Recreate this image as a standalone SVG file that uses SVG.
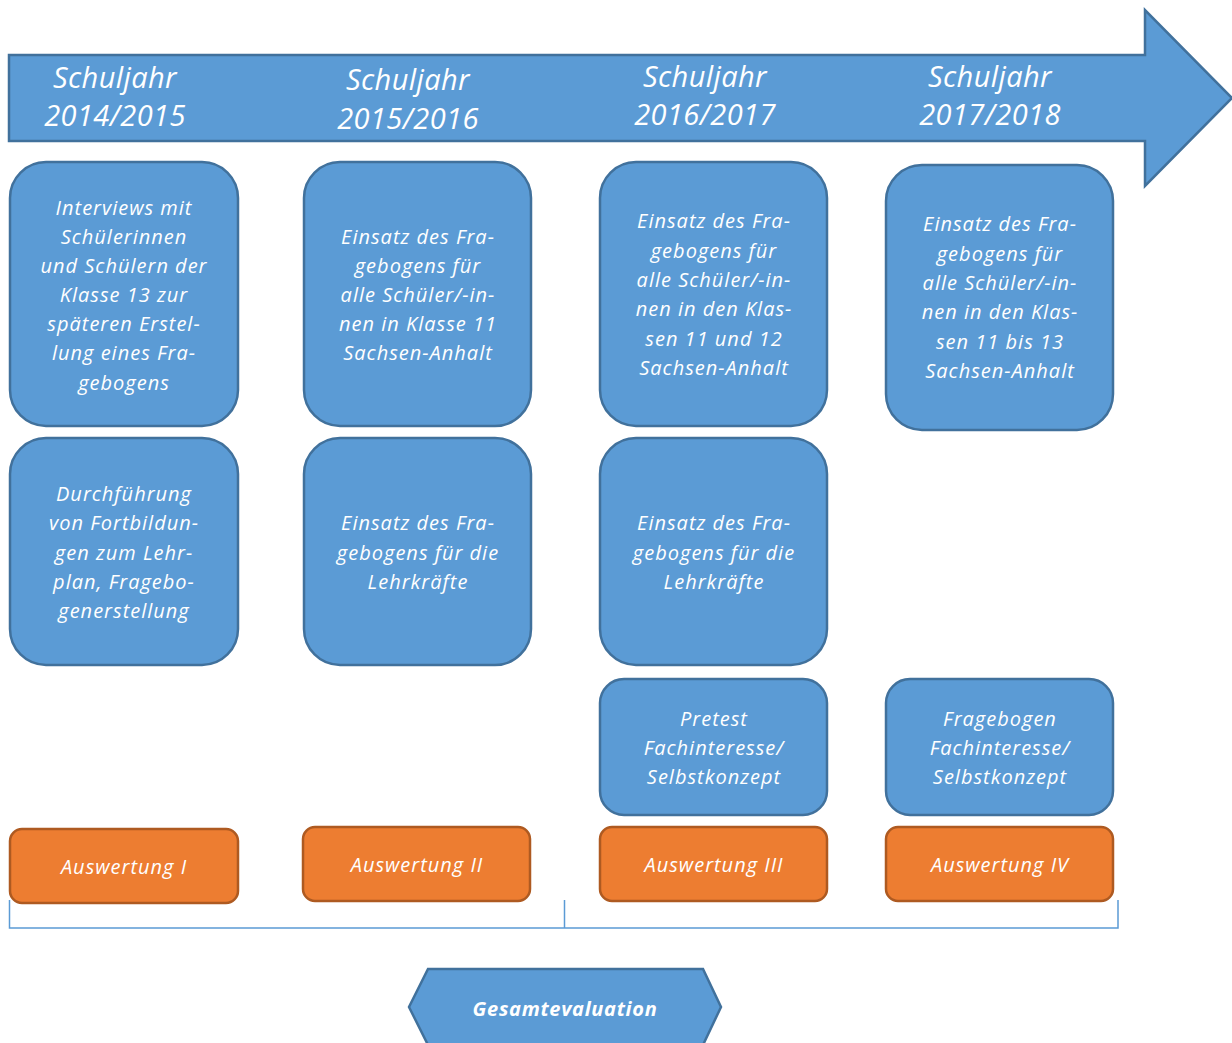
<svg xmlns="http://www.w3.org/2000/svg" width="1232" height="1043" viewBox="0 0 1232 1043">
<style>
.b{fill:#5B9BD5;stroke:#41719C;stroke-width:2.5}
.o{fill:#ED7D31;stroke:#AE5A21;stroke-width:2.5}
text{font-family:"Open Sans","Liberation Sans",sans-serif;font-style:italic;fill:#fff;text-anchor:middle}
.t{font-size:20px;letter-spacing:1px}
.y{font-size:29px;letter-spacing:0.4px}
.g{font-size:20px;font-weight:bold;letter-spacing:0.7px}
.br{fill:none;stroke:#5B9BD5;stroke-width:1.5}
</style>
<rect width="1232" height="1043" fill="#fff"/>
<g id="timeline">
<path class="b" d="M9,55 H1145 V10 L1232,98 L1145,186 V141 H9 Z"/>
<text class="y" x="115" y="88">Schuljahr</text><text class="y" x="115" y="126">2014/2015</text>
<text class="y" x="408" y="90">Schuljahr</text><text class="y" x="408" y="129">2015/2016</text>
<text class="y" x="705" y="87">Schuljahr</text><text class="y" x="705" y="125">2016/2017</text>
<text class="y" x="990" y="87">Schuljahr</text><text class="y" x="990" y="125">2017/2018</text>
</g>
<g id="n1a"><rect class="b" x="10" y="162" width="228" height="264" rx="36"/>
<text class="t"><tspan x="124" y="215">Interviews mit</tspan><tspan x="124" y="244">Schülerinnen</tspan><tspan x="124" y="273">und Schülern der</tspan><tspan x="124" y="302">Klasse 13 zur</tspan><tspan x="124" y="331">späteren Erstel-</tspan><tspan x="124" y="360">lung eines Fra-</tspan><tspan x="124" y="390">gebogens</tspan></text></g>
<g id="n1b"><rect class="b" x="10" y="438" width="228" height="227" rx="36"/>
<text class="t"><tspan x="124" y="501">Durchführung</tspan><tspan x="124" y="530">von Fortbildun-</tspan><tspan x="124" y="560">gen zum Lehr-</tspan><tspan x="124" y="589">plan, Fragebo-</tspan><tspan x="124" y="618">generstellung</tspan></text></g>
<g id="n2a"><rect class="b" x="304" y="162" width="227" height="264" rx="36"/>
<text class="t"><tspan x="418" y="244">Einsatz des Fra-</tspan><tspan x="418" y="273">gebogens für</tspan><tspan x="418" y="302">alle Schüler/-in-</tspan><tspan x="418" y="331">nen in Klasse 11</tspan><tspan x="418" y="360">Sachsen-Anhalt</tspan></text></g>
<g id="n2b"><rect class="b" x="304" y="438" width="227" height="227" rx="36"/>
<text class="t"><tspan x="418" y="530">Einsatz des Fra-</tspan><tspan x="418" y="560">gebogens für die</tspan><tspan x="418" y="589">Lehrkräfte</tspan></text></g>
<g id="n3a"><rect class="b" x="600" y="162" width="227" height="264" rx="36"/>
<text class="t"><tspan x="714" y="228">Einsatz des Fra-</tspan><tspan x="714" y="258">gebogens für</tspan><tspan x="714" y="287">alle Schüler/-in-</tspan><tspan x="714" y="316">nen in den Klas-</tspan><tspan x="714" y="346">sen 11 und 12</tspan><tspan x="714" y="375">Sachsen-Anhalt</tspan></text></g>
<g id="n3b"><rect class="b" x="600" y="438" width="227" height="227" rx="36"/>
<text class="t"><tspan x="714" y="530">Einsatz des Fra-</tspan><tspan x="714" y="560">gebogens für die</tspan><tspan x="714" y="589">Lehrkräfte</tspan></text></g>
<g id="n3c"><rect class="b" x="600" y="679" width="227" height="136" rx="24"/>
<text class="t"><tspan x="714" y="726">Pretest</tspan><tspan x="714" y="755">Fachinteresse/</tspan><tspan x="714" y="784">Selbstkonzept</tspan></text></g>
<g id="n4a"><rect class="b" x="886" y="165" width="227" height="265" rx="36"/>
<text class="t"><tspan x="1000" y="231">Einsatz des Fra-</tspan><tspan x="1000" y="261">gebogens für</tspan><tspan x="1000" y="290">alle Schüler/-in-</tspan><tspan x="1000" y="319">nen in den Klas-</tspan><tspan x="1000" y="349">sen 11 bis 13</tspan><tspan x="1000" y="378">Sachsen-Anhalt</tspan></text></g>
<g id="n4c"><rect class="b" x="886" y="679" width="227" height="136" rx="24"/>
<text class="t"><tspan x="1000" y="726">Fragebogen</tspan><tspan x="1000" y="755">Fachinteresse/</tspan><tspan x="1000" y="784">Selbstkonzept</tspan></text></g>
<g id="a1"><rect class="o" x="10" y="829" width="228" height="74" rx="12"/><text class="t" x="124" y="874">Auswertung I</text></g>
<g id="a2"><rect class="o" x="303" y="827" width="227" height="74" rx="12"/><text class="t" x="417" y="872">Auswertung II</text></g>
<g id="a3"><rect class="o" x="600" y="827" width="227" height="74" rx="12"/><text class="t" x="714" y="872">Auswertung III</text></g>
<g id="a4"><rect class="o" x="886" y="827" width="227" height="74" rx="12"/><text class="t" x="1000" y="872">Auswertung IV</text></g>
<g id="connectors">
<path class="br" d="M9.5,900 V928 H1118 V900 M564.5,900 V928"/>
</g>
<g id="gesamt"><path class="b" d="M428,969 H703 L721,1007 L703,1045 H428 L409,1007 Z"/>
<text class="g" x="565" y="1016">Gesamtevaluation</text></g>
</svg>
